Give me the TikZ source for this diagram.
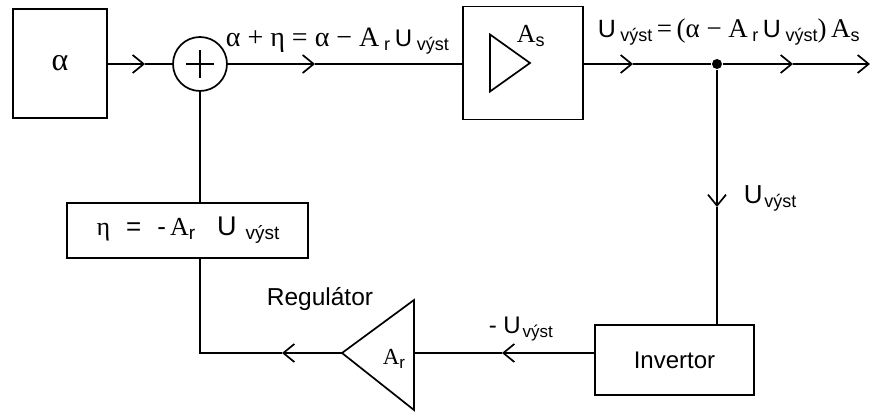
\documentclass[tikz,border=0pt]{standalone}
\usepackage{fontspec}
\setmainfont{Liberation Serif}
\setsansfont{Liberation Sans}
\usetikzlibrary{arrows.meta}
\newcommand{\lo}[2][16]{\raisebox{-4pt}{\fontsize{#1}{#1}\selectfont\sffamily #2}}
\newcommand{\su}[2][23]{{\fontsize{#1}{#1}\selectfont\sffamily #2}}
\begin{document}
\begin{tikzpicture}[x={(1pt,0pt)},y={(0pt,-1pt)}, line width=1.7pt,
  box/.style={draw, rectangle, inner sep=0pt},
  chev/.style={-{Straight Barb[length=11pt,width=18pt,line width=1.7pt]}},
  lbl/.style={inner sep=0pt, font=\fontsize{28}{30}\selectfont},
  slbl/.style={inner sep=0pt, font=\fontsize{24.5}{26}\selectfont\sffamily}]
\useasboundingbox (0,0) rectangle (871,412);
% blocks
\node[box, minimum width=94pt, minimum height=109pt, font=\fontsize{32}{32}\selectfont] (alpha) at (60,63.5) {α};
\node[draw, circle, minimum size=54pt, inner sep=0pt] (sum) at (200,64) {};
\draw ([xshift=-14pt]sum.center) -- ([xshift=14pt]sum.center);
\draw ([yshift=-14pt]sum.center) -- ([yshift=14pt]sum.center);
\node[box, minimum width=120pt, minimum height=113pt] (As) at (523,63) {};
\draw ([shift={(-33pt,28.5pt)}]As.center) -- ([shift={(-33pt,-28.5pt)}]As.center) -- ([shift={(7pt,0pt)}]As.center) -- cycle;
\node[inner sep=0pt, anchor=base west, font=\fontsize{26}{26}\selectfont] (Aslbl) at (516,43) {A\lo[18]{s}};
\node[circle, fill, inner sep=0pt, minimum size=10pt] (dot) at (717,64) {};
\node[box, minimum width=159pt, minimum height=70pt, font=\fontsize{24}{26}\selectfont\sffamily] (inv) at (674.5,360) {Invertor};
\node[box, minimum width=241pt, minimum height=55pt, font=\fontsize{26}{28}\selectfont] (eta) at (187.5,230.5)
  {\hspace{1pt}η\hspace{16pt}\su[26]{=}\hspace{16pt}\su[26]{-}\hspace{4pt}A\lo[19]{r}\hspace{22pt}\su[27]{U}\hspace{9pt}\lo[19]{výst}};
\draw (414,300) -- (414,410) -- (342,353) -- cycle;
\coordinate (arback) at (414,353);
\coordinate (artip) at (342,353);
\node[inner sep=0pt, anchor=base west, font=\fontsize{23}{24}\selectfont] (arlbl) at (382,364) {A\lo[17]{r}};
% connection points
\coordinate (c1) at (145,64);
\coordinate (c2) at (315,64);
\coordinate (c3) at (633,64);
\coordinate (c4) at (793,64);
\coordinate (endp) at (870,64);
\coordinate (c5) at (717,207);
\coordinate (c6) at (502,353);
\coordinate (c7) at (282,353);
\coordinate (corner) at (200,353);
% connectors
\draw[chev] (alpha.east |- c1) -- (c1);
\draw (c1) -- (sum.west);
\draw[chev] (sum.east) -- (c2);
\draw (c2) -- (c2 -| As.west);
\draw[chev] (c2 -| As.east) -- (c3);
\draw (c3) -- (dot);
\draw[chev] (dot) -- (c4);
\draw[chev] (c4) -- (endp);
\draw[chev] (dot) -- (c5);
\draw (c5) -- (c5 |- inv.north);
\draw[chev] (inv.west |- c6) -- (c6);
\draw (c6) -- (arback);
\draw[chev] (artip) -- (c7);
\draw (c7) -- (corner) -- (corner |- eta.south);
\draw (eta.north -| sum) -- (sum.south);
% labels
\node[lbl, anchor=base west] (toplbl) at (225,47) {α + η = α − A\,\lo[18]{r}\,\su[24]{U}\,\lo[18]{výst}};
\node[inner sep=0pt, anchor=base west, font=\fontsize{27}{28}\selectfont] (outlbl) at (597,38) {\su[25]{U}\,\lo[18]{výst}\,=\,(α − A\,\lo[18]{r}\,\su[25]{U}\,\lo[18]{výst})\,A\lo[18]{s}};
\node[inner sep=0pt, anchor=base west] (ulbl) at (743,203) {\su[26]{U}\,\lo[18]{výst}};
\node[inner sep=0pt, anchor=base west] (mulbl) at (488,333) {\su[24]{- U}\,\lo[17]{výst}};
\node[slbl, anchor=base west] (reglbl) at (266,305) {Regulátor};
\end{tikzpicture}
\end{document}
